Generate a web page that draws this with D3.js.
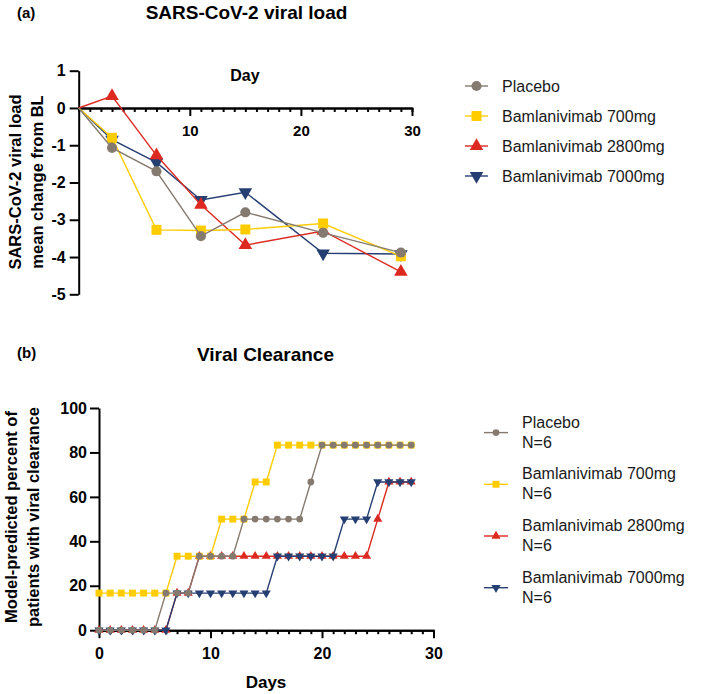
<!DOCTYPE html>
<html>
<head>
<meta charset="utf-8">
<script src="https://cdn.jsdelivr.net/npm/d3@7"></script>
<style>
  body { margin: 0; background: #fff; }
  svg { font-family: "Liberation Sans", Arial, sans-serif; }
</style>
</head>
<body>
<script>
// panel (a): viral load change from baseline
const daysA = [0, 3, 7, 11, 15, 22, 29]
const placeboLoad = [0, -1.07, -1.7, -3.44, -2.8, -3.35, -3.88]
const bam700Load = [0, -0.8, -3.27, -3.29, -3.26, -3.1, -3.98]
const bam2800Load = [0, 0.32, -1.27, -2.6, -3.68, -3.3, -4.4]
const bam7000Load = [0, -0.85, -1.46, -2.47, -2.26, -3.9, -3.92]

// panel (b): model-predicted percent with viral clearance, day 0..28
const daysB = [0,1,2,3,4,5,6,7,8,9,10,11,12,13,14,15,16,17,18,19,20,21,22,23,24,25,26,27,28]
const placeboClear = [0,0,0,0,0,0,16.7,16.7,16.7,33.3,33.3,33.3,33.3,50,50,50,50,50,50,66.7,83.3,83.3,83.3,83.3,83.3,83.3,83.3,83.3,83.3]
const bam700Clear = [16.7,16.7,16.7,16.7,16.7,16.7,16.7,33.3,33.3,33.3,33.3,50,50,50,66.7,66.7,83.3,83.3,83.3,83.3,83.3,83.3,83.3,83.3,83.3,83.3,83.3,83.3,83.3]
const bam2800Clear = [0,0,0,0,0,0,0,16.7,16.7,33.3,33.3,33.3,33.3,33.3,33.3,33.3,33.3,33.3,33.3,33.3,33.3,33.3,33.3,33.3,33.3,50,66.7,66.7,66.7]
const bam7000Clear = [0,0,0,0,0,0,0,16.7,16.7,16.7,16.7,16.7,16.7,16.7,16.7,16.7,33.3,33.3,33.3,33.3,33.3,33.3,50,50,50,66.7,66.7,66.7,66.7]

const groupNames = ["Placebo", "Bamlanivimab 700mg", "Bamlanivimab 2800mg", "Bamlanivimab 7000mg"]
const colors = ["#857a70", "#ffcc00", "#dc2a20", "#263f72"]
const shapes = ["circle", "square", "up", "down"]

const yTicksA = [1, 0, -1, -2, -3, -4, -5]
const yTicksB = [0, 20, 40, 60, 80, 100]

let svg = d3.select("body").append("svg")
  .attr("width", 709)
  .attr("height", 694)

function symbolPath(shape, size) {
  if (shape == "circle") return d3.symbol(d3.symbolCircle, size)()
  if (shape == "square") return d3.symbol(d3.symbolSquare, size)()
  return d3.symbol(d3.symbolTriangle, size)()
}

function addMarker(g, shape, size, x, y, color) {
  g.append("path")
    .attr("d", symbolPath(shape, size))
    .attr("transform", "translate(" + x + "," + y + ")" + (shape == "down" ? " rotate(180)" : ""))
    .attr("fill", color)
}

function styleAxis(g) {
  g.select(".domain").attr("stroke-width", 2).attr("stroke", "#000")
  g.selectAll(".tick line").attr("stroke-width", 2).attr("stroke", "#000")
  g.selectAll(".tick text").attr("font-size", 16).attr("font-weight", "bold").attr("fill", "#000")
}

// ---------- panel (a) ----------
let xA = d3.scaleLinear().domain([0, 30]).range([78.7, 412])
let yA = d3.scaleLinear().domain([-5, 1]).range([294.3, 70.7])

svg.append("text").attr("x", 17).attr("y", 18).attr("font-size", 15).attr("font-weight", "bold").text("(a)")
svg.append("text").attr("x", 246.5).attr("y", 19).attr("text-anchor", "middle")
  .attr("font-size", 19).attr("font-weight", "bold").text("SARS-CoV-2 viral load")

// minor day ticks
let minorA = svg.append("g").attr("transform", "translate(0," + yA(0) + ")")
  .call(d3.axisBottom(xA).tickValues(d3.range(1, 30).filter(d => d % 10 != 0)).tickSize(4).tickFormat(""))
styleAxis(minorA)
let xAxisA = svg.append("g").attr("transform", "translate(0," + yA(0) + ")")
  .call(d3.axisBottom(xA).tickValues([10, 20, 30]).tickSize(8).tickPadding(9).tickSizeOuter(0))
styleAxis(xAxisA)
xAxisA.selectAll(".tick text").attr("font-size", 15)

let yAxisA = svg.append("g").attr("transform", "translate(" + xA(0) + ",0)")
  .call(d3.axisLeft(yA).tickValues(yTicksA).tickSize(9).tickPadding(4).tickSizeOuter(0).tickFormat(d3.format("d")))
styleAxis(yAxisA)
yAxisA.selectAll(".tick text").text(d => d < 0 ? "-" + Math.abs(d) : d)

svg.append("text").attr("x", 245).attr("y", 81).attr("text-anchor", "middle")
  .attr("font-size", 16).attr("font-weight", "bold").text("Day")

let yTitleA = svg.append("text").attr("transform", "translate(0,182) rotate(-90)")
  .attr("text-anchor", "middle").attr("font-size", 16.5).attr("font-weight", "bold")
yTitleA.append("tspan").attr("x", 0).attr("y", 21).text("SARS-CoV-2 viral load")
yTitleA.append("tspan").attr("x", 0).attr("y", 43).text("mean change from BL")

let loadSeries = [placeboLoad, bam700Load, bam2800Load, bam7000Load]
let drawOrderA = [3, 2, 1, 0]
let lineA = d3.line().x((d, i) => xA(daysA[i])).y(d => yA(d))
let sizesA = { circle: 80, square: 100, up: 80, down: 80 }
drawOrderA.forEach(k => {
  let g = svg.append("g")
  g.append("path").datum(loadSeries[k]).attr("d", lineA)
    .attr("fill", "none").attr("stroke", colors[k]).attr("stroke-width", 1.4)
  loadSeries[k].forEach((v, i) => {
    if (i == 0) return
    addMarker(g, shapes[k], sizesA[shapes[k]], xA(daysA[i]), yA(v), colors[k])
  })
})

// legend (a)
let legA = svg.append("g")
groupNames.forEach((name, k) => {
  let y = 86 + k * 30
  legA.append("line").attr("x1", 465).attr("x2", 488).attr("y1", y).attr("y2", y)
    .attr("stroke", colors[k]).attr("stroke-width", 1.4)
  addMarker(legA, shapes[k], sizesA[shapes[k]], 476.5, y, colors[k])
  legA.append("text").attr("x", 502).attr("y", y + 6).attr("font-size", 16).attr("fill", "#1a1a1a").text(name)
})

// ---------- panel (b) ----------
let xB = d3.scaleLinear().domain([0, 30]).range([99, 433.5])
let yB = d3.scaleLinear().domain([0, 100]).range([630.2, 408])

svg.append("text").attr("x", 17).attr("y", 358).attr("font-size", 15).attr("font-weight", "bold").text("(b)")
svg.append("text").attr("x", 265.5).attr("y", 361).attr("text-anchor", "middle")
  .attr("font-size", 19).attr("font-weight", "bold").text("Viral Clearance")

let minorB = svg.append("g").attr("transform", "translate(0," + yB(0) + ")")
  .call(d3.axisBottom(xB).tickValues(d3.range(1, 30).filter(d => d % 10 != 0)).tickSize(4).tickFormat(""))
styleAxis(minorB)
let xAxisB = svg.append("g").attr("transform", "translate(0," + yB(0) + ")")
  .call(d3.axisBottom(xB).tickValues([0, 10, 20, 30]).tickSize(8).tickPadding(9).tickSizeOuter(0))
styleAxis(xAxisB)

let yAxisB = svg.append("g").attr("transform", "translate(" + xB(0) + ",0)")
  .call(d3.axisLeft(yB).tickValues(yTicksB).tickSize(9).tickPadding(3).tickSizeOuter(0))
styleAxis(yAxisB)

svg.append("text").attr("x", 266).attr("y", 688).attr("text-anchor", "middle")
  .attr("font-size", 17).attr("font-weight", "bold").text("Days")

let yTitleB = svg.append("text").attr("transform", "translate(0,517) rotate(-90)")
  .attr("text-anchor", "middle").attr("font-size", 16.5).attr("font-weight", "bold")
yTitleB.append("tspan").attr("x", 0).attr("y", 17).text("Model-predicted percent of")
yTitleB.append("tspan").attr("x", 0).attr("y", 39).text("patients with viral clearance")

let clearSeries = [placeboClear, bam700Clear, bam2800Clear, bam7000Clear]
let drawOrderB = [2, 3, 1, 0]
let lineB = d3.line().x((d, i) => xB(daysB[i])).y(d => yB(d))
let sizesB = { circle: 36, square: 48, up: 36, down: 36 }
drawOrderB.forEach(k => {
  let g = svg.append("g")
  g.append("path").datum(clearSeries[k]).attr("d", lineB)
    .attr("fill", "none").attr("stroke", colors[k]).attr("stroke-width", 1.4)
  clearSeries[k].forEach((v, i) => {
    addMarker(g, shapes[k], sizesB[shapes[k]], xB(daysB[i]), yB(v), colors[k])
  })
})

// legend (b)
let legB = svg.append("g")
groupNames.forEach((name, k) => {
  let y = 432.6 + k * 51.7
  legB.append("line").attr("x1", 484).attr("x2", 508).attr("y1", y).attr("y2", y)
    .attr("stroke", colors[k]).attr("stroke-width", 1.4)
  addMarker(legB, shapes[k], sizesB[shapes[k]], 496, y, colors[k])
  let t = legB.append("text").attr("font-size", 16).attr("fill", "#1a1a1a")
  t.append("tspan").attr("x", 522).attr("y", y - 5).text(name)
  t.append("tspan").attr("x", 522).attr("y", y + 15).text("N=6")
})
</script>
</body>
</html>
